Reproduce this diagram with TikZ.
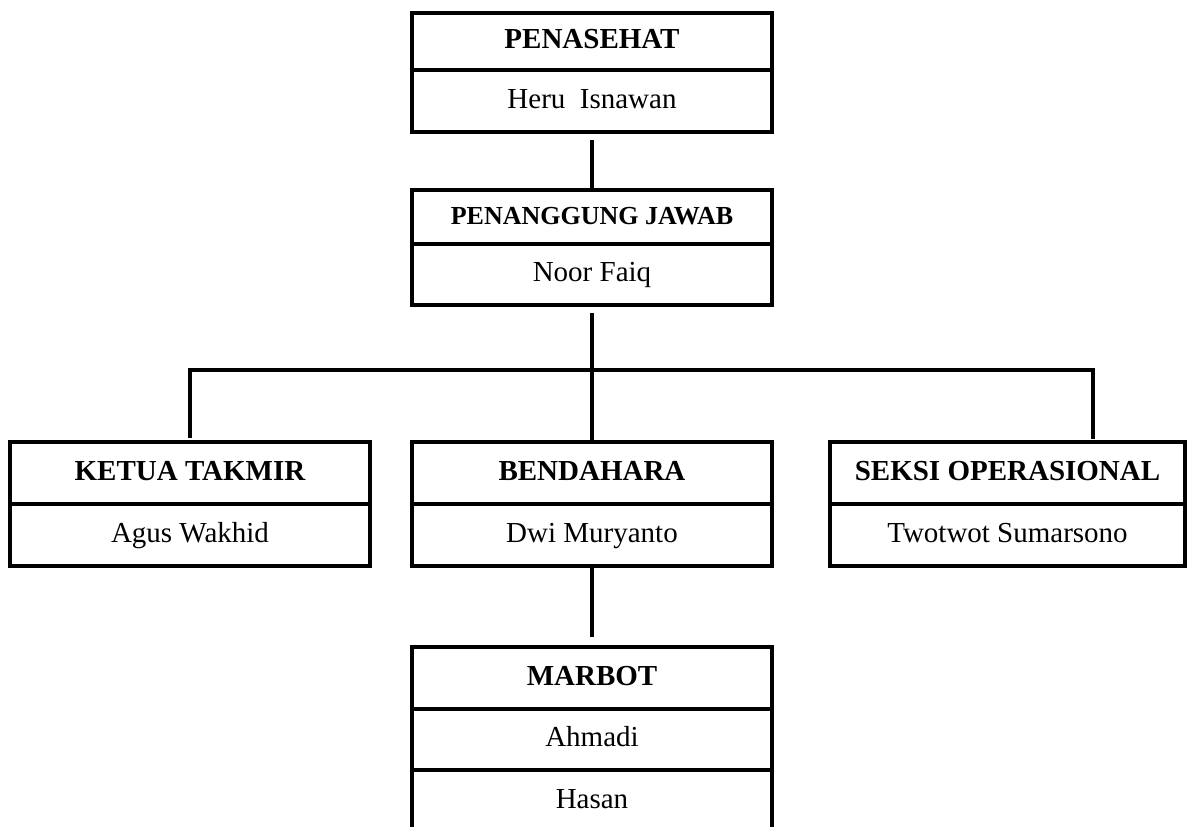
\documentclass[tikz,border=0pt]{standalone}
\usepackage{fontspec}
\setmainfont{Liberation Serif}
\usetikzlibrary{positioning}

\begin{document}
\begin{tikzpicture}
\tikzstyle{title}=[rectangle, draw=black, line width=2pt, outer sep=0pt, inner sep=0pt, minimum width=180pt, minimum height=31pt, text height=0.72em, text depth=0pt, node distance=0pt, font=\fontsize{14.5}{17}\selectfont\bfseries]
\tikzstyle{person}=[title, font=\fontsize{14.5}{17}\selectfont]
\tikzstyle{connect}=[line width=2pt]
  \clip (0,0) rectangle (594pt,-413pt);
  \node[title, minimum height=28.5pt] (penasehat) at (296pt,-20.75pt) {PENASEHAT};
  \node[person] (heru) [below=of penasehat] {Heru~~Isnawan};
  \node[title, minimum height=27pt, font=\fontsize{13}{16}\selectfont\bfseries] (pj) [below=29pt of heru] {PENANGGUNG JAWAB};
  \node[person, minimum height=30.5pt] (noor) [below=of pj] {Noor Faiq};
  \node[title] (bendahara) [below=68.5pt of noor] {BENDAHARA};
  \node[person] (dwi) [below=of bendahara] {Dwi Muryanto};
  \node[title] (ketua) [left=21pt of bendahara] {KETUA TAKMIR};
  \node[person] (agus) [below=of ketua] {Agus Wakhid};
  \node[title, minimum width=177.5pt] (seksi) [right=29pt of bendahara] {SEKSI OPERASIONAL};
  \node[person, minimum width=177.5pt] (twotwot) [below=of seksi] {Twotwot Sumarsono};
  \node[title] (marbot) [below=40.5pt of dwi] {MARBOT};
  \node[person, minimum height=30.5pt] (ahmadi) [below=of marbot] {Ahmadi};
  \node[person] (hasan) [below=of ahmadi] {Hasan};
  \coordinate[below=32.5pt of noor.south] (bus);
  \coordinate (seksitop) at ([xshift=-46pt]seksi.north east);
  \draw[connect, shorten <=4pt] (heru) -- (pj);
  \draw[connect, shorten <=4pt] (noor) -- (bendahara);
  \draw[connect, line cap=rect] (ketua.north |- bus) -- (seksitop |- bus);
  \draw[connect, shorten >=2pt] (ketua.north |- bus) -- (ketua);
  \draw[connect, shorten >=1.5pt] (seksitop |- bus) -- (seksitop);
  \draw[connect, shorten >=5pt] (dwi) -- (marbot);
\end{tikzpicture}
\end{document}
